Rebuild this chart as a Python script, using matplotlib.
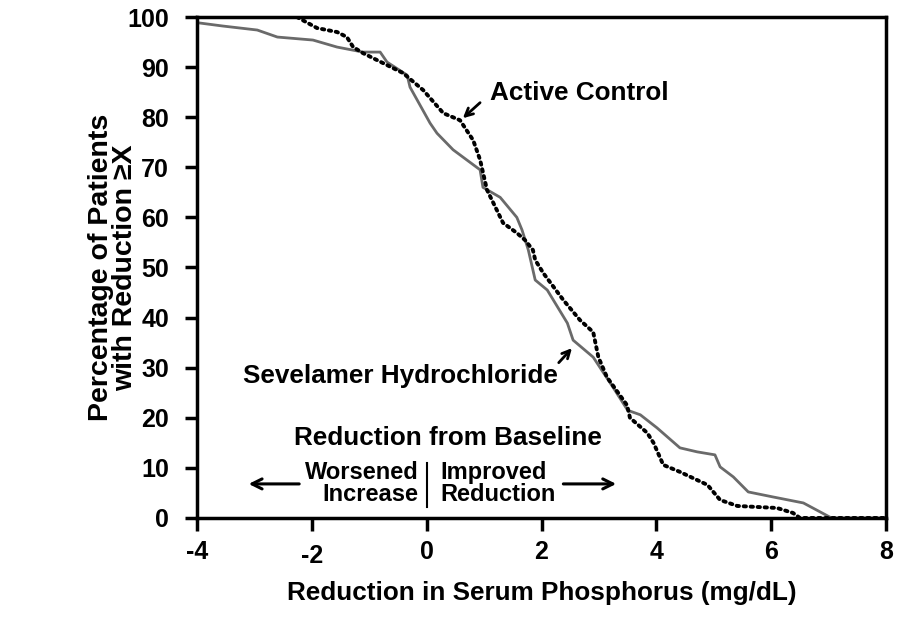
import matplotlib.pyplot as plt
import matplotlib.transforms as mtransforms

plt.rcParams['font.family'] = ['Liberation Sans', 'DejaVu Sans']
plt.rcParams['font.weight'] = 'bold'
plt.rcParams['axes.unicode_minus'] = False

# Sevelamer hydrochloride (solid grey)
sev_x = [-3.95, -3.55, -2.95, -2.6, -1.98, -1.56, -1.11, -0.81, -0.69, -0.34, -0.29, 0.06,
         0.18, 0.46, 0.93, 0.98, 1.28, 1.57, 1.66, 1.77, 1.89, 2.1, 2.45, 2.55, 2.9, 3.25,
         3.5, 3.72, 4.01, 4.41, 4.71, 5.02, 5.11, 5.34, 5.6, 6.03, 6.56, 7.05, 8.0]
sev_y = [98.8, 98.2, 97.4, 96, 95.4, 94, 93, 93, 91, 88.4, 86, 78.8,
         76.8, 73.5, 69.5, 66, 64, 60, 57.5, 53.5, 47.5, 45.5, 38.9, 35.5, 32.1, 26,
         21.5, 20.6, 18, 14, 13.2, 12.6, 10.2, 8.2, 5.2, 4.2, 3, 0, 0]

# Active control (dotted black)
act_x = [-2.26, -1.91, -1.56, -1.39, -1.28, -1.11, -0.76, -0.41, -0.06, 0.29, 0.58, 0.81,
         0.93, 1.05, 1.33, 1.57, 1.71, 1.85, 1.89, 2.03, 2.38, 2.67, 2.9, 2.99, 3.14, 3.49,
         3.54, 3.84, 3.95, 4.12, 4.41, 4.89, 5.11, 5.41, 6.1, 6.38, 6.5, 8.0]
act_y = [100, 97.8, 97, 96, 94, 92.8, 90.8, 88.8, 85.4, 80.8, 79.4, 75.4,
         71.5, 65.5, 58.9, 56.9, 55.5, 53.5, 51.5, 48.9, 43.5, 39.5, 37.1, 32.1, 28.1, 22.5,
         20, 17, 15, 10.6, 9.2, 6.6, 3.6, 2.4, 2, 1, 0, 0]

x_ticks = [-4, -2, 0, 2, 4, 6, 8]
y_ticks = list(range(0, 101, 10))

fig = plt.figure(figsize=(9.23, 6.3), dpi=100)
ax = fig.add_axes([0.2134, 0.1778, 0.7466, 0.7952])

ax.plot(sev_x, sev_y, color='#6a6a6a', lw=2)
ax.plot(act_x, act_y, color='black', lw=2.8, ls=(0, (0.6, 1.2)), dash_capstyle='round')

ax.set_xlim(-4, 8)
ax.set_ylim(0, 100)
ax.set_xticks(x_ticks)
ax.set_yticks(y_ticks)
ax.tick_params(axis='both', labelsize=18, width=2.5, direction='out', colors='black')
ax.tick_params(axis='x', length=9, pad=7)
ax.tick_params(axis='y', length=9, pad=11)
for lab in ax.get_xticklabels() + ax.get_yticklabels():
    lab.set_fontweight('bold')
# the scanned original has the "-2" label sitting a little lower
lab_m2 = ax.get_xticklabels()[1]
lab_m2.set_transform(lab_m2.get_transform() +
                     mtransforms.ScaledTranslation(0, -3 / 72, fig.dpi_scale_trans))
for sp in ax.spines.values():
    sp.set_linewidth(2.5)

ax.set_xlabel('Reduction in Serum Phosphorus (mg/dL)', fontsize=18.8, fontweight='bold', labelpad=9)
ax.set_ylabel('Percentage of Patients\nwith Reduction \u2265X', fontsize=20.5, fontweight='bold',
              labelpad=-8, linespacing=0.95)

# curve labels
ax.text(1.1, 84.8, 'Active Control', fontsize=18.8, fontweight='bold', va='center', ha='left')
ax.annotate('', xy=(0.63, 79.8), xytext=(0.93, 82.9),
            arrowprops=dict(arrowstyle='->', lw=2, color='black', shrinkA=0, shrinkB=0,
                            mutation_scale=14))
ax.text(-3.2, 28.3, 'Sevelamer Hydrochloride', fontsize=18.8, fontweight='bold',
        va='center', ha='left')
ax.annotate('', xy=(2.53, 33.9), xytext=(2.3, 31.0),
            arrowprops=dict(arrowstyle='->', lw=2, color='black', shrinkA=0, shrinkB=0,
                            mutation_scale=14))

# direction legend
ax.text(0.37, 15.9, 'Reduction from Baseline', fontsize=18.8, fontweight='bold',
        ha='center', va='center')
ax.text(-0.14, 6.9, 'Worsened\nIncrease', fontsize=17, fontweight='bold',
        ha='right', va='center', multialignment='right', linespacing=0.97)
ax.text(0.23, 6.9, 'Improved\nReduction', fontsize=17, fontweight='bold',
        ha='left', va='center', multialignment='left', linespacing=0.97)
ax.plot([0, 0], [2.2, 11], color='black', lw=1.5)
ax.annotate('', xy=(-3.1, 6.8), xytext=(-2.22, 6.8),
            arrowprops=dict(arrowstyle='->', lw=2.2, color='black', shrinkA=0, shrinkB=0,
                            mutation_scale=18))
ax.annotate('', xy=(3.3, 6.8), xytext=(2.38, 6.8),
            arrowprops=dict(arrowstyle='->', lw=2.2, color='black', shrinkA=0, shrinkB=0,
                            mutation_scale=18))

fig.savefig('out.png', dpi=100)
